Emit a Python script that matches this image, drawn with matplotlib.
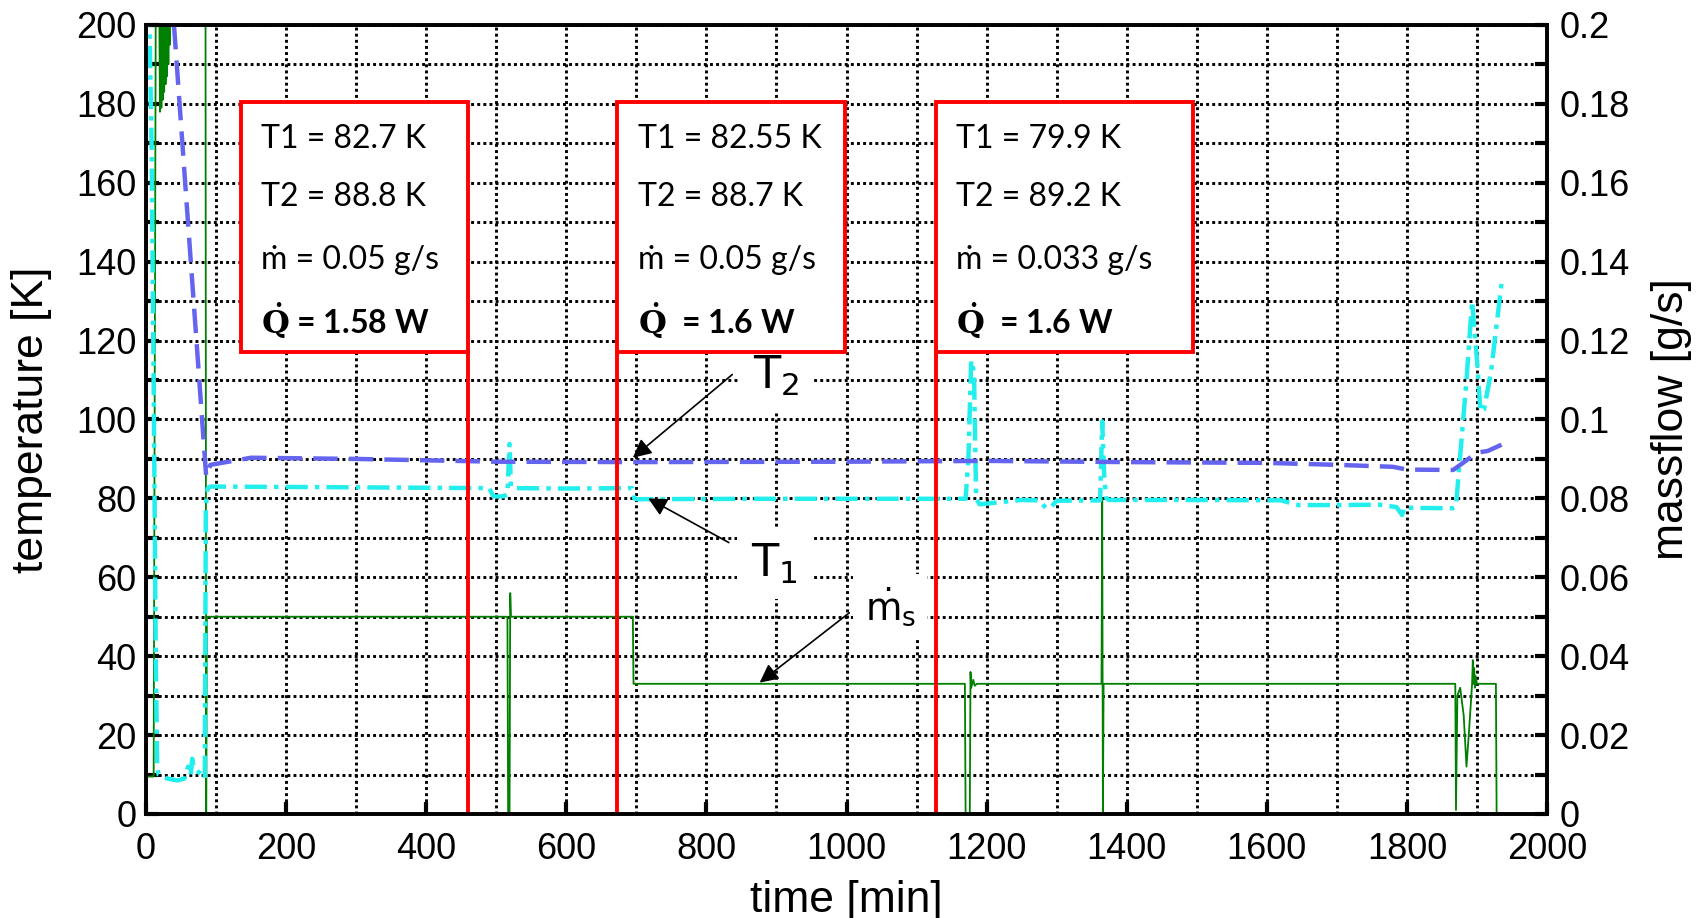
import numpy as np
import matplotlib
matplotlib.use("Agg")
import matplotlib.pyplot as plt
from matplotlib.patches import Rectangle
from matplotlib.ticker import MultipleLocator, FuncFormatter

plt.rcParams['font.family'] = ['Liberation Sans', 'DejaVu Sans']

# ---- data (time in min) ----
# T1, cyan dash-dot [K]
t1_time = [1, 5, 8, 11, 14, 16, 18, 30, 45, 55, 60, 64, 66, 68, 72, 80, 84, 85.5, 88, 92,
           300, 490, 496, 510, 516, 519, 521, 524, 600, 694, 697, 700, 900, 1170, 1174,
           1178, 1182, 1185, 1190, 1250, 1275, 1285, 1292, 1300, 1362, 1365, 1368, 1371,
           1375, 1500, 1620, 1645, 1700, 1760, 1785, 1793, 1797, 1802, 1865, 1870, 1885,
           1893, 1900, 1905, 1910, 1920, 1935]
t1_temp = [205, 200, 170, 110, 40, 12, 10, 9, 8.5, 9, 12, 10, 14, 12, 11, 10, 9, 78, 82.5, 83,
           82.8, 82.6, 80.5, 80.5, 81, 93.8, 83, 82.6, 82.5, 82.6, 80, 79.8, 79.9, 79.9, 90,
           115, 112, 80, 78.5, 79.6, 79.5, 77.5, 77.8, 79.4, 79.5, 99.5, 85, 80, 79.6,
           79.6, 79.5, 78.3, 78.3, 78.4, 77.8, 75.8, 77.8, 77.6, 77.5, 78, 110,
           130, 115, 102, 102.5, 112, 134.5]

# T2, blue dashed [K]
t2_time = [40, 60, 86, 92, 150, 300, 500, 700, 1000, 1200, 1400, 1600, 1700, 1780, 1800,
           1866, 1880, 1900, 1915, 1935]
t2_temp = [200, 150, 85.5, 88.5, 90.3, 90, 89.3, 89.2, 89.3, 89.5, 89.2, 89, 88.5, 88, 87.3,
           87.2, 89, 91.6, 92, 93.6]

# massflow, green [g/s]
m_time = [0, 0.3, 0.6, 11, 14, 19, 20, 21, 22, 23, 24, 25, 26, 27, 28, 29, 30, 31, 32, 33,
          34, 35, 85, 86, 87, 516, 517, 519, 520, 521, 695, 696, 1169, 1170, 1176, 1177,
          1178, 1181, 1183, 1186, 1364, 1365, 1366, 1367, 1869, 1870, 1872, 1876, 1881,
          1885, 1889, 1893, 1894, 1895, 1896, 1897, 1898, 1900, 1927, 1928, 1935]
m_flow = [0, 0.054, 0.0095, 0.0095, 0.205, 0.205, 0.178, 0.2, 0.179, 0.2, 0.181, 0.2,
          0.183, 0.2, 0.185, 0.2, 0.187, 0.2, 0.19, 0.2, 0.195, 0.21, 0.21, 0, 0.05, 0.05,
          0, 0, 0.056, 0.05, 0.05, 0.033, 0.033, 0, 0, 0.036, 0.032, 0.034, 0.0325, 0.033,
          0.033, 0.08, 0, 0.033, 0.033, 0.001, 0.03, 0.032, 0.025, 0.012, 0.022, 0.033,
          0.039, 0.033, 0.037, 0.032, 0.035, 0.033, 0.033, 0, 0]

# steady state boxes: (left, right) in min, and which edge continues as red line
box_left = [135, 673, 1128]
box_right = [459, 998, 1495]
line_at = [459, 673, 1128]
box_T1 = ["82.7", "82.55", "79.9"]
box_T2 = ["88.8", "88.7", "89.2"]
box_m = ["0.05", "0.05", "0.033"]
box_Q = ["= 1.58 W", " = 1.6 W", " = 1.6 W"]
box_top, box_bottom = 180.5, 117

fig = plt.figure(figsize=(17.07, 9.18), dpi=100)
ax1 = fig.add_axes([0.0855, 0.1133, 0.8208, 0.8595])
ax2 = ax1.twinx()

ax1.set_xlim(0, 2000)
ax1.set_ylim(0, 200)
ax2.set_ylim(0, 0.2)

# grid: black dotted, under the data
ax1.set_axisbelow(True)
ax1.xaxis.set_major_locator(MultipleLocator(200))
ax1.xaxis.set_minor_locator(MultipleLocator(100))
ax1.yaxis.set_major_locator(MultipleLocator(20))
ax1.yaxis.set_minor_locator(MultipleLocator(10))
ax2.yaxis.set_major_locator(MultipleLocator(0.02))
ax2.yaxis.set_minor_locator(MultipleLocator(0.01))
ax1.grid(True, which='both', color='k', linestyle=(0, (1, 1.1)), linewidth=2.1)

ax1.plot(m_time, m_flow, color='#008000', lw=1.3, transform=ax2.transData, zorder=2)
ax1.plot(t1_time, t1_temp, color='#22EEEE', lw=3.2, dashes=(5, 1.6, 1, 1.6), zorder=3)
ax1.plot(t2_time, t2_temp, color='#6464EE', lw=3.2, dashes=(5.5, 2.5), zorder=3)

tfont = ['Lato', 'DejaVu Sans']
for i in range(3):
    ax1.add_patch(Rectangle((box_left[i], box_bottom), box_right[i] - box_left[i],
                            box_top - box_bottom, facecolor='white', edgecolor='#FF0000',
                            lw=2.8, zorder=5))
    ax1.plot([line_at[i], line_at[i]], [0, box_bottom], color='#FF0000', lw=2.8, zorder=5)
    x0 = box_left[i] + 29
    ax1.text(x0, 171, "T1 = " + box_T1[i] + " K", family=tfont, fontsize=23,
             va='center', zorder=6)
    ax1.text(x0, 156.3, "T2 = " + box_T2[i] + " K", family=tfont, fontsize=23,
             va='center', zorder=6)
    ax1.text(x0, 140.5, "ṁ = " + box_m[i] + " g/s", family=tfont, fontsize=23,
             va='center', zorder=6)
    ax1.text(x0, 125, r"$\mathbf{\dot{Q}}$ " + box_Q[i], family=tfont, fontsize=23,
             fontweight='bold', math_fontfamily='dejavuserif', va='center', zorder=6)

# curve labels with arrows
lbl = dict(boxstyle='square,pad=0.3', facecolor='white', edgecolor='none')
arw = dict(arrowstyle='-|>', color='k', lw=1.2, mutation_scale=28,
           shrinkA=0, shrinkB=0)
ax1.text(866, 111, r"$\mathrm{T}_{2}$", fontsize=32, math_fontfamily='dejavusans',
         va='center', bbox=lbl, zorder=4)
ax1.annotate('', xy=(695, 90.3), xytext=(837, 111.4), arrowprops=arw, zorder=6)
ax1.text(863, 63.5, r"$\mathrm{T}_{1}$", fontsize=32, math_fontfamily='dejavusans',
         va='center', bbox=lbl, zorder=4)
ax1.annotate('', xy=(717, 80), xytext=(832, 68.8), arrowprops=arw, zorder=6)
ax1.text(1026, 52.5, r"$\dot{\mathrm{m}}_{\mathrm{s}}$", fontsize=27,
         math_fontfamily='dejavusans', va='center', bbox=lbl, zorder=4)
ax1.annotate('', xy=(876, 33.3), xytext=(1004, 51), arrowprops=arw, zorder=6)

# axes styling
for ax in (ax1, ax2):
    for s in ax.spines.values():
        s.set_linewidth(2.6)
ax1.tick_params(axis='both', which='both', direction='in', labelsize=26, width=3,
                length=9, pad=7)
ax1.tick_params(axis='x', which='minor', length=0)
ax1.tick_params(axis='x', which='major', pad=13)
ax2.tick_params(axis='y', which='both', direction='in', labelsize=26, width=3,
                length=9, pad=9)
fmt = FuncFormatter(lambda v, p: "%g" % round(v, 4))
ax1.xaxis.set_major_formatter(fmt)
ax1.yaxis.set_major_formatter(fmt)
ax2.yaxis.set_major_formatter(fmt)

ax1.set_xlabel("time [min]", fontsize=32)
ax1.set_ylabel("temperature [K]", fontsize=32)
ax2.set_ylabel("massflow [g/s]", fontsize=32)
ax1.xaxis.set_label_coords(0.5, -0.084)
ax1.yaxis.set_label_coords(-0.067, 0.5)
ax2.yaxis.set_label_coords(1.074, 0.5)

fig.savefig("out.png", dpi=100)
